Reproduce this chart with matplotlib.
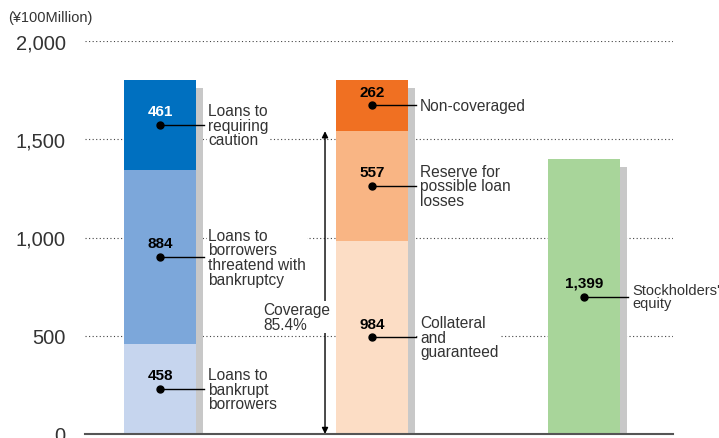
import matplotlib.pyplot as plt
from matplotlib.patches import FancyArrowPatch

# values (¥100 million)
bar_positions = [0, 1, 2]
loans_bankrupt = 458
loans_threatened = 884
loans_caution = 461
collateral = 984
reserve = 557
non_covered = 262
equity = 1399

stack1_values = [loans_bankrupt, loans_threatened, loans_caution]
stack1_colors = ['#C6D5EE', '#7CA7DA', '#0070C0']
stack1_labels = ['Loans to\nbankrupt\nborrowers',
                 'Loans to\nborrowers\nthreatend with\nbankruptcy',
                 'Loans to\nrequiring\ncaution']
stack1_text_colors = ['black', 'black', 'white']

stack2_values = [collateral, reserve, non_covered]
stack2_colors = ['#FCDDC5', '#F9B584', '#F07022']
stack2_labels = ['Collateral\nand\nguaranteed',
                 'Reserve for\npossible loan\nlosses',
                 'Non-coveraged']

stack3_values = [equity]
stack3_colors = ['#A8D59A']
stack3_labels = ["Stockholders'\nequity"]

coverage_text = 'Coverage\n85.4%'
yticks = [0, 500, 1000, 1500, 2000]

plt.rcParams['font.family'] = ['Liberation Sans', 'DejaVu Sans']

fig = plt.figure(figsize=(7.19, 4.39), dpi=100)
ax = fig.add_axes([85 / 719, 4 / 439, (673 - 85) / 719, (435 - 42) / 439])
ax.set_xlim(-0.354, 2.42)
ax.set_ylim(0, 2000)

width = 72 / 212
shadow_dx = 7 / 212
label_dx = 0.226
line_dx = 0.207
value_dy = 70
label_size = 11.2


def draw_stack(x, values, colors, labels, text_colors, size=label_size):
    total = sum(values)
    # grey shadow behind the bar
    ax.bar(x + shadow_dx, total - 40, width=width, color='#C8C8C8', zorder=2)
    bottom = 0
    for val, col, lab, tc in zip(values, colors, labels, text_colors):
        ax.bar(x, val, width=width, bottom=bottom, color=col, zorder=3)
        mid = bottom + val / 2
        ax.plot([x, x + line_dx], [mid, mid], color='black', lw=1.0, zorder=5)
        ax.plot(x, mid, 'o', color='black', ms=5, zorder=6)
        ax.text(x, mid + value_dy, f'{val:,}', ha='center', va='center',
                fontsize=11, fontweight='bold', color=tc, zorder=6,
                family=['Liberation Sans Narrow', 'Liberation Sans'])
        ax.text(x + label_dx, mid, lab, ha='left', va='center', fontsize=size,
                color='#333333', linespacing=0.97, zorder=4,
                bbox=dict(fc='white', ec='none', pad=1))
        bottom += val


draw_stack(bar_positions[0], stack1_values, stack1_colors, stack1_labels, stack1_text_colors)
draw_stack(bar_positions[1], stack2_values, stack2_colors, stack2_labels, ['black'] * 3)
draw_stack(bar_positions[2], stack3_values, stack3_colors, stack3_labels, ['black'], size=10.5)

# coverage arrow
arrow_x = bar_positions[1] - 47 / 212
covered = collateral + reserve
arrow = FancyArrowPatch((arrow_x, 0), (arrow_x, covered), arrowstyle='<|-|>',
                        mutation_scale=9, color='black', lw=1.0, zorder=3,
                        shrinkA=0, shrinkB=0)
ax.add_patch(arrow)
ax.text(arrow_x - 62 / 212, 595, coverage_text, ha='left', va='center',
        fontsize=label_size, color='#333333', linespacing=0.97, zorder=4,
        bbox=dict(fc='white', ec='none', pad=1))

# axes styling
ax.set_yticks(yticks)
ax.set_yticklabels([f'{v:,}' for v in yticks], fontsize=14.5, color='#333333')
ax.tick_params(axis='y', length=0, pad=14)
ax.set_xticks([])
ax.yaxis.grid(True, linestyle=(0, (1, 2.2)), color='#444444', lw=0.8, zorder=1)
ax.set_axisbelow(True)
for side in ['left', 'right', 'top']:
    ax.spines[side].set_visible(False)
ax.spines['bottom'].set_color('#555555')
ax.spines['bottom'].set_linewidth(1.5)
ax.spines['bottom'].set_zorder(7)

fig.text(8 / 719, 1 - 18 / 439, '(¥100Million)', ha='left', va='center',
         fontsize=10.5, color='#333333')

fig.savefig('out.png', dpi=100)
